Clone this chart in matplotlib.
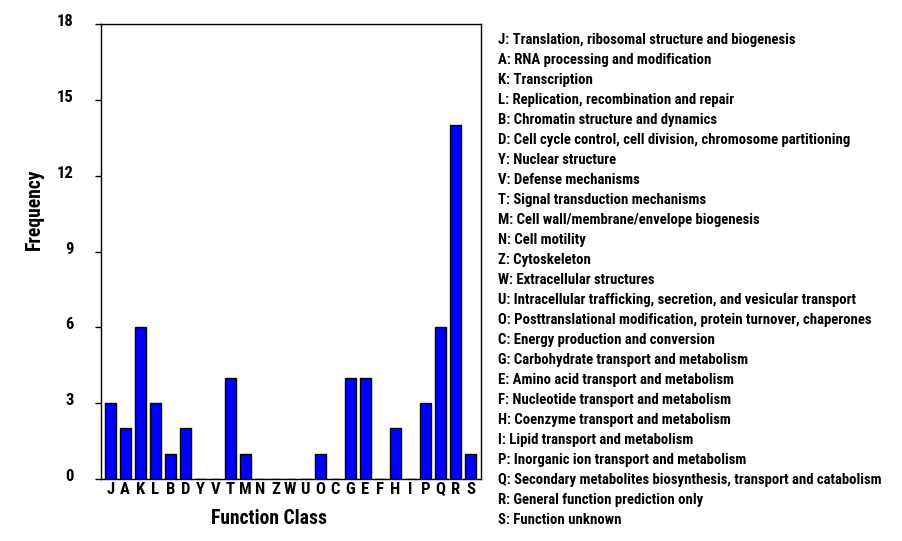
import matplotlib
matplotlib.use("Agg")
import matplotlib.pyplot as plt
from matplotlib import font_manager
from matplotlib.transforms import ScaledTranslation

categories = ["J", "A", "K", "L", "B", "D", "Y", "V", "T", "M", "N", "Z", "W",
              "U", "O", "C", "G", "E", "F", "H", "I", "P", "Q", "R", "S"]
values = [3, 2, 6, 3, 1, 2, 0, 0, 4, 1, 0, 0, 0, 0, 1, 0, 4, 4, 0, 2, 0, 3, 6, 14, 1]
descriptions = [
    "Translation, ribosomal structure and biogenesis",
    "RNA processing and modification",
    "Transcription",
    "Replication, recombination and repair",
    "Chromatin structure and dynamics",
    "Cell cycle control, cell division, chromosome partitioning",
    "Nuclear structure",
    "Defense mechanisms",
    "Signal transduction mechanisms",
    "Cell wall/membrane/envelope biogenesis",
    "Cell motility",
    "Cytoskeleton",
    "Extracellular structures",
    "Intracellular trafficking, secretion, and vesicular transport",
    "Posttranslational modification, protein turnover, chaperones",
    "Energy production and conversion",
    "Carbohydrate transport and metabolism",
    "Amino acid transport and metabolism",
    "Nucleotide transport and metabolism",
    "Coenzyme transport and metabolism",
    "Lipid transport and metabolism",
    "Inorganic ion transport and metabolism",
    "Secondary metabolites biosynthesis, transport and catabolism",
    "General function prediction only",
    "Function unknown",
]
yticks = [0, 3, 6, 9, 12, 15, 18]


def _w(f):
    w = f.weight
    if isinstance(w, str):
        return 700 if "bold" in w.lower() else 400
    return w


bold_names = {f.name for f in font_manager.fontManager.ttflist if _w(f) >= 700}
candidates = ["Liberation Sans Narrow", "Arial Narrow", "Nimbus Sans Narrow",
              "Roboto Condensed", "Open Sans Condensed", "IBM Plex Sans Condensed",
              "Sofia Sans Condensed", "Fira Sans Condensed", "Barlow Semi Condensed",
              "PT Sans Narrow", "Asap Condensed", "Liberation Sans"]
FONT = next(c for c in candidates if c in bold_names or c == "Liberation Sans")

W, H = 902, 541
fig = plt.figure(figsize=(W / 100, H / 100), dpi=100)
L, R, T, B = 100.5, 480.5, 24, 479
ax = fig.add_axes([L / W, 1 - B / H, (R - L) / W, (B - T) / H])

x = list(range(len(categories)))
ax.bar(x, values, width=0.7, color="#0000ff", edgecolor="black", linewidth=1.0)
ax.set_xlim(-0.65, 24.67)
ax.set_ylim(0, 18)
ax.set_yticks(yticks)
ax.set_xticks(x)
ax.set_xticklabels(categories)
ax.tick_params(axis="x", length=0, pad=2.5)
ax.tick_params(axis="y", direction="out", length=4.3, width=1, pad=15)
up = ScaledTranslation(0, 4 / 100, fig.dpi_scale_trans)
for lab in ax.get_xticklabels() + ax.get_yticklabels():
    lab.set_fontfamily(FONT)
    lab.set_fontweight("bold")
    lab.set_fontsize(12)
for lab in ax.get_yticklabels():
    lab.set_transform(lab.get_transform() + up)
for s in ax.spines.values():
    s.set_linewidth(1.0)

xl = ax.set_xlabel("Function Class", fontfamily=FONT, fontweight="bold", fontsize=15)
yl = ax.set_ylabel("Frequency", fontfamily=FONT, fontweight="bold", fontsize=15)
ax.xaxis.set_label_coords((269 - L) / (R - L), (B - 518) / (B - T))
ax.yaxis.set_label_coords((34 - L) / (R - L), (B - 209) / (B - T))
for t in (xl, yl):
    t.set_verticalalignment("center")

texts = []
for i, (c, d) in enumerate(zip(categories, descriptions)):
    texts.append(fig.text(498 / W, 1 - (40 + 20 * i) / H, f"{c}: {d}", fontfamily=FONT,
                          fontweight="bold", fontsize=10, va="center", ha="left"))

# fit font sizes to the reference text extents
rend = fig.canvas.get_renderer()
wD = texts[5].get_window_extent(rend).width
leg_size = 10 * 352 / wD
for t in texts:
    t.set_fontsize(leg_size)
wx = xl.get_window_extent(rend).width
xl.set_fontsize(15 * 116 / wx)
hy = yl.get_window_extent(rend).height
yl.set_fontsize(15 * 82 / hy)

fig.savefig("out.png", dpi=100)
